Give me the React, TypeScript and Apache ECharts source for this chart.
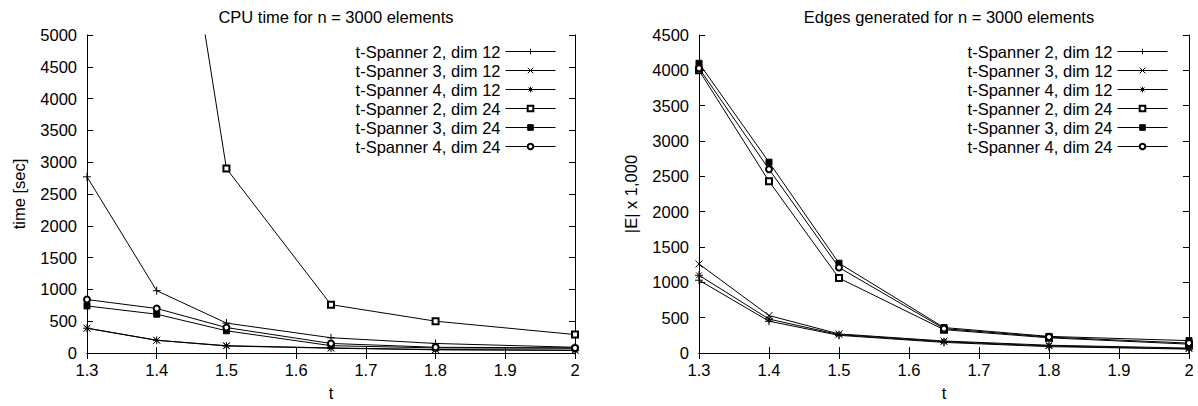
import { useEffect, useRef } from "react";
import * as echarts from "echarts";

// Stretch factor t (x positions of the measurements)
const tValues = [1.3, 1.4, 1.5, 1.65, 1.8, 2];

const seriesNames = [
  "t-Spanner 2, dim 12",
  "t-Spanner 3, dim 12",
  "t-Spanner 4, dim 12",
  "t-Spanner 2, dim 24",
  "t-Spanner 3, dim 24",
  "t-Spanner 4, dim 24",
];

// CPU time in seconds
const timeSp2d12 = [2770, 980, 470, 240, 150, 90];
const timeSp3d12 = [390, 200, 115, 80, 55, 45];
const timeSp4d12 = [390, 200, 110, 75, 50, 40];
const timeSp2d24 = [20000, 9800, 2900, 760, 500, 290];
const timeSp3d24 = [740, 610, 350, 115, 80, 75];
const timeSp4d24 = [840, 700, 400, 150, 90, 80];

// Number of generated edges, in thousands
const edgesSp2d12 = [1030, 450, 250, 150, 90, 55];
const edgesSp3d12 = [1260, 530, 270, 170, 110, 70];
const edgesSp4d12 = [1100, 480, 260, 160, 100, 60];
const edgesSp2d24 = [4000, 2430, 1060, 330, 215, 125];
const edgesSp3d24 = [4100, 2700, 1270, 360, 235, 175];
const edgesSp4d24 = [4030, 2600, 1210, 345, 225, 140];

const timeSeries = [timeSp2d12, timeSp3d12, timeSp4d12, timeSp2d24, timeSp3d24, timeSp4d24];
const edgeSeries = [edgesSp2d12, edgesSp3d12, edgesSp4d12, edgesSp2d24, edgesSp3d24, edgesSp4d24];

const FONT = "'Liberation Sans', Arial, Helvetica, sans-serif";
const FS = 16.5;

// gnuplot-like point types: +, x, *, open square, filled square, open circle
const markers = [
  { symbol: "path://M0,5L10,5M5,0L5,10", size: 8 },
  { symbol: "path://M1,1L9,9M9,1L1,9", size: 7 },
  { symbol: "path://M0,5L10,5M5,0L5,10M1.5,1.5L8.5,8.5M8.5,1.5L1.5,8.5", size: 8 },
  { symbol: "emptyRect", size: 6 },
  { symbol: "rect", size: 6 },
  { symbol: "emptyCircle", size: 6 },
];

function makeSeries(values: number[][], axisIndex: number) {
  return values.map((vals, i) => ({
    name: seriesNames[i],
    type: "line",
    xAxisIndex: axisIndex,
    yAxisIndex: axisIndex,
    data: tValues.map((t, k) => [t, vals[k]]),
    symbol: markers[i].symbol,
    symbolSize: markers[i].size,
    showSymbol: true,
    clip: true,
    lineStyle: { color: "#000", width: 1 },
    itemStyle: { color: "#000", borderColor: "#000", borderWidth: 1 },
    emphasis: { disabled: true },
  }));
}

const tickStyle = { show: true, inside: true, length: 6, lineStyle: { color: "#000", width: 1 } };
const lineStyle = { show: true, lineStyle: { color: "#000", width: 1 } };

function xAxes(gridIndex: number) {
  const base = {
    gridIndex,
    type: "value",
    min: 1.3,
    max: 2,
    interval: 0.1,
    splitLine: { show: false },
    axisLine: lineStyle,
    axisTick: tickStyle,
  };
  return [
    {
      ...base,
      position: "bottom",
      name: "t",
      nameLocation: "middle",
      nameGap: 31,
      nameTextStyle: { color: "#000", fontSize: FS, fontFamily: FONT },
      axisLabel: {
        color: "#000",
        fontSize: FS,
        fontFamily: FONT,
        margin: 8,
        formatter: (v: number) => String(Math.round(v * 10) / 10),
      },
    },
    { ...base, position: "top", axisLabel: { show: false } },
  ];
}

function yAxes(gridIndex: number, max: number, name: string) {
  const base = {
    gridIndex,
    type: "value",
    min: 0,
    max,
    interval: 500,
    splitLine: { show: false },
    axisLine: lineStyle,
    axisTick: tickStyle,
  };
  return [
    {
      ...base,
      position: "left",
      name,
      nameLocation: "middle",
      nameGap: 60,
      nameTextStyle: { color: "#000", fontSize: FS, fontFamily: FONT },
      axisLabel: {
        color: "#000",
        fontSize: FS,
        fontFamily: FONT,
        margin: 10,
        formatter: (v: number) => String(Math.round(v)),
      },
    },
    { ...base, position: "right", axisLabel: { show: false } },
  ];
}

function legend(right: number) {
  return {
    data: seriesNames,
    orient: "vertical",
    right,
    top: 42,
    align: "right",
    itemWidth: 50,
    itemHeight: 7,
    itemGap: 0,
    padding: 0,
    selectedMode: false,
    lineStyle: { width: 1, color: "#000" },
    itemStyle: { borderWidth: 1 },
    textStyle: { color: "#000", fontSize: FS, fontFamily: FONT, lineHeight: 19 },
  };
}

export default function App() {
  const ref = useRef<HTMLDivElement>(null);

  useEffect(() => {
    if (!ref.current) return;
    const chart = echarts.init(ref.current, null, { renderer: "svg" });
    chart.setOption({
      animation: false,
      backgroundColor: "#fff",
      title: [
        {
          text: "CPU time for n = 3000 elements",
          left: 331,
          top: 3,
          textAlign: "center",
          textStyle: { color: "#000", fontSize: FS, fontWeight: "normal", fontFamily: FONT },
        },
        {
          text: "Edges generated for n = 3000 elements",
          left: 944,
          top: 3,
          textAlign: "center",
          textStyle: { color: "#000", fontSize: FS, fontWeight: "normal", fontFamily: FONT },
        },
      ],
      legend: [legend(642), legend(30)],
      grid: [
        { left: 87, top: 35, width: 488, height: 318, show: false },
        { left: 699, top: 35, width: 490, height: 318, show: false },
      ],
      xAxis: [...xAxes(0), ...xAxes(1)],
      yAxis: [...yAxes(0, 5000, "time [sec]"), ...yAxes(1, 4500, "|E| x 1,000")],
      series: [...makeSeries(timeSeries, 0), ...makeSeries(edgeSeries, 2)],
    });
    return () => chart.dispose();
  }, []);

  return (
    <div
      ref={ref}
      style={{ position: "absolute", left: 0, top: 0, width: 1198, height: 406 }}
    />
  );
}
